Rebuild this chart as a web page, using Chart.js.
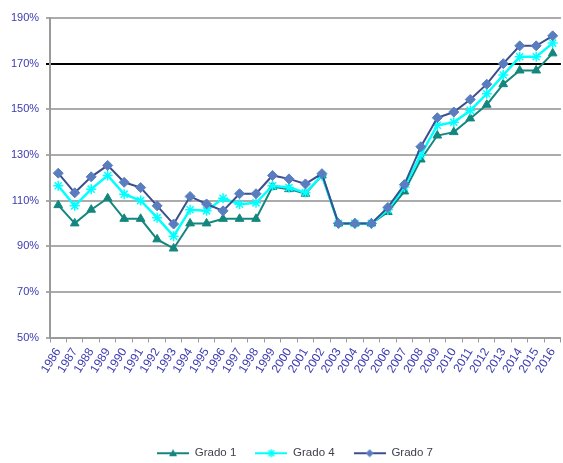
<!DOCTYPE html>
<html><head><meta charset="utf-8">
<script src="https://cdn.jsdelivr.net/npm/chart.js@4"></script>
<style>html,body{margin:0;padding:0;overflow:hidden;background:#fff}#wrap{width:568px;height:463px}</style>
</head><body><div id="wrap"><canvas id="c" width="568" height="463"></canvas></div>
<script>
const years = ["1986","1987","1988","1989","1990","1991","1992","1993","1994","1995","1996","1997","1998","1999","2000","2001","2002","2003","2004","2005","2006","2007","2008","2009","2010","2011","2012","2013","2014","2015","2016"];
const grado1 = [108, 100, 106, 111, 102, 102, 93, 89, 100, 100, 102, 102, 102, 116, 115, 113, 121, 100, 100, 100, 105, 114, 128, 138.5, 140, 146, 152, 161, 167, 167, 174.5];
const grado4 = [116.5, 107.7, 115, 121, 112.8, 110, 102.5, 94.4, 106, 105.5, 111, 108.4, 109, 116.5, 115.7, 113.5, 121, 100, 100, 100, 106, 116, 130, 143, 144.3, 149.5, 156.8, 165, 173, 173, 179];
const grado7 = [122, 113.4, 120.4, 125.4, 118, 115.7, 107.7, 99.7, 111.8, 108.5, 105.5, 113, 113, 121, 119.5, 117.3, 121.8, 100, 100, 100, 107, 117, 133.6, 146.3, 148.8, 154.3, 161, 170, 177.8, 177.8, 182.2];
const yTicks = [50, 70, 90, 110, 130, 150, 170, 190];

const c1 = '#13877D', c4 = '#00FFFF', c7line = '#3B4F8E', c7pt = '#5A7DC0';

function icon(line, fill, style) {
  const cv = document.createElement('canvas');
  cv.width = 32; cv.height = 12;
  const ctx = cv.getContext('2d');
  ctx.strokeStyle = line; ctx.lineWidth = 2;
  ctx.beginPath(); ctx.moveTo(0, 6); ctx.lineTo(32, 6); ctx.stroke();
  ctx.fillStyle = fill; ctx.strokeStyle = fill; ctx.lineWidth = 1.5;
  ctx.beginPath();
  if (style === 'triangle') { ctx.moveTo(16, 2); ctx.lineTo(20, 9); ctx.lineTo(12, 9); ctx.closePath(); ctx.fill(); }
  else if (style === 'rectRot') { ctx.moveTo(16, 2); ctx.lineTo(20, 6); ctx.lineTo(16, 10); ctx.lineTo(12, 6); ctx.closePath(); ctx.fill(); }
  else { ctx.moveTo(13, 3); ctx.lineTo(19, 9); ctx.moveTo(19, 3); ctx.lineTo(13, 9); ctx.moveTo(16, 2); ctx.lineTo(16, 10); ctx.stroke(); }
  return cv;
}
const icons = [icon(c1, c1, 'triangle'), icon(c4, c4, 'star'), icon(c7line, c7pt, 'rectRot')];

new Chart(document.getElementById('c'), {
  type: 'line',
  data: {
    labels: years,
    datasets: [
      { label: 'Grado 1', data: grado1, borderColor: c1, backgroundColor: c1, pointStyle: 'triangle', pointRadius: 5, pointBorderWidth: 1, borderWidth: 2, order: 2 },
      { label: 'Grado 4', data: grado4, borderColor: c4, backgroundColor: c4, pointStyle: 'star', pointRadius: 5, pointBorderWidth: 1.5, borderWidth: 2.5, order: 1 },
      { label: 'Grado 7', data: grado7, borderColor: c7line, backgroundColor: c7pt, pointBorderColor: c7pt, pointStyle: 'rectRot', pointRadius: 5, pointBorderWidth: 1, borderWidth: 2, order: 0 }
    ]
  },
  options: {
    responsive: false,
    animation: false,
    layout: { padding: { top: 18, left: 22, right: 0, bottom: -6 } },
    plugins: {
      tooltip: { enabled: false },
      legend: {
        position: 'bottom',
        labels: {
          usePointStyle: true,
          pointStyleWidth: 32,
          padding: 19,
          color: '#404050',
          font: { family: 'Liberation Sans', size: 11.5 },
          generateLabels: (chart) => chart.data.datasets.map((ds, i) => ({
            text: ds.label, pointStyle: icons[i], fillStyle: ds.borderColor, strokeStyle: ds.borderColor,
            lineWidth: 0, hidden: false, datasetIndex: i, fontColor: '#404050'
          }))
        }
      }
    },
    scales: {
      x: {
        offset: true,
        grid: { drawOnChartArea: false, drawTicks: true, tickLength: 5, color: '#9A9A9A', offset: true },
        border: { color: '#9A9A9A', width: 2 },
        ticks: { color: '#3A3AB0', font: { family: 'Liberation Sans', size: 12 }, minRotation: 58, maxRotation: 58, autoSkip: false, padding: 3 },
        afterFit: (s) => { s.height = 91; }
      },
      y: {
        min: 50, max: 190,
        afterBuildTicks: (s) => { s.ticks = yTicks.map(v => ({ value: v })); },
        grid: {
          color: (ctx) => ctx.tick && ctx.tick.value === 170 ? '#000000' : '#ABABAB',
          lineWidth: 2, tickLength: 4
        },
        border: { color: '#9A9A9A', width: 2 },
        ticks: { color: '#3A3AB0', font: { family: 'Liberation Sans', size: 11 }, mirror: true, crossAlign: 'far', padding: -39, callback: (v) => v + '%' },
        afterFit: (s) => { s.width = 28; }
      }
    }
  }
});
</script></body></html>
